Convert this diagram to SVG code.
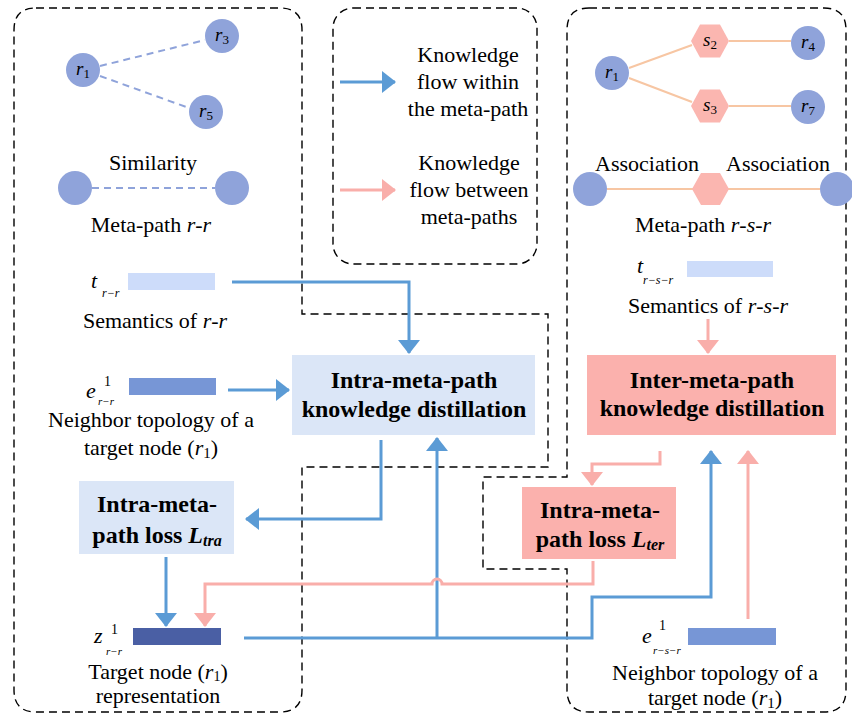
<svg xmlns="http://www.w3.org/2000/svg" width="852" height="717" viewBox="0 0 852 717" font-family="'Liberation Serif', 'Times New Roman', Times, Tinos, 'Noto Serif', 'DejaVu Serif', serif">
<style>
text{font-family:'Liberation Serif','Times New Roman',Times,Tinos,'Noto Serif','DejaVu Serif',serif}
.t{font-size:22px;fill:#000}
.b{font-size:24px;font-weight:bold;fill:#000}
.i{font-style:italic}
.lbl{font-size:19px;fill:#000;font-style:italic}
.sub{font-size:13px}
.bnd{fill:none;stroke:#000;stroke-width:1.4;stroke-dasharray:8 5}
.nd{fill:#8fa3da}
.hx{fill:#fbb6b0}
.sim{stroke:#8fa3da;stroke-width:2;stroke-dasharray:7 5;fill:none}
.asc{stroke:#f7c6a3;stroke-width:2;fill:none}
.bl{stroke:#5b9bd5;stroke-width:3;fill:none}
.pk{stroke:#f9aeaa;stroke-width:3;fill:none}
</style>
<defs>
<marker id="ab" markerUnits="userSpaceOnUse" markerWidth="14" markerHeight="22" refX="13" refY="11" orient="auto"><path d="M0,0 L14,11 L0,22 Z" fill="#5b9bd5"/></marker>
<marker id="ap" markerUnits="userSpaceOnUse" markerWidth="14" markerHeight="22" refX="13" refY="11" orient="auto"><path d="M0,0 L14,11 L0,22 Z" fill="#f9aeaa"/></marker>
</defs>

<g id="boundaries">
<path class="bnd" d="M36,8 H280 Q302,8 302,30 V314 H548 V467 H302 V690 Q302,712 280,712 H36 Q14,712 14,690 V30 Q14,8 36,8 Z"/>
<rect class="bnd" x="333" y="8" width="204" height="256" rx="20"/>
<path class="bnd" d="M589,8 H824 Q846,8 846,30 V690 Q846,712 824,712 H589 Q567,712 567,690 V569 H483 V477 H567 V30 Q567,8 589,8 Z"/>
</g>

<g id="legend">
<line class="bl" x1="340" y1="82" x2="395" y2="82" marker-end="url(#ab)"/>
<text class="t" text-anchor="middle"><tspan x="468" y="62">Knowledge</tspan><tspan x="468" y="89">flow within</tspan><tspan x="468" y="116">the meta-path</tspan></text>
<line class="pk" x1="340" y1="190" x2="395" y2="190" marker-end="url(#ap)"/>
<text class="t" text-anchor="middle"><tspan x="469" y="170">Knowledge</tspan><tspan x="469" y="197">flow between</tspan><tspan x="469" y="224">meta-paths</tspan></text>
</g>

<g id="graph-rr">
<line class="sim" x1="100" y1="66" x2="205" y2="40"/>
<line class="sim" x1="100" y1="76" x2="189" y2="108"/>
<circle class="nd" cx="83" cy="70" r="17"/>
<circle class="nd" cx="222" cy="36" r="17"/>
<circle class="nd" cx="206" cy="112" r="17"/>
<text class="lbl" x="76" y="75">r<tspan class="sub" style="font-style:normal" dy="3">1</tspan></text>
<text class="lbl" x="215" y="41">r<tspan class="sub" style="font-style:normal" dy="3">3</tspan></text>
<text class="lbl" x="199" y="117">r<tspan class="sub" style="font-style:normal" dy="3">5</tspan></text>
</g>

<g id="metapath-rr">
<text class="t" x="153" y="170" text-anchor="middle">Similarity</text>
<line class="sim" x1="92" y1="188" x2="215" y2="188"/>
<circle class="nd" cx="75" cy="188" r="17"/>
<circle class="nd" cx="232" cy="188" r="17"/>
<text class="t" x="151" y="232" text-anchor="middle">Meta-path <tspan class="i">r</tspan>-<tspan class="i">r</tspan></text>
</g>

<g id="graph-rsr">
<line class="asc" x1="629" y1="68" x2="692" y2="45"/>
<line class="asc" x1="629" y1="78" x2="692" y2="102"/>
<line class="asc" x1="729" y1="41" x2="791" y2="41"/>
<line class="asc" x1="729" y1="106" x2="791" y2="106"/>
<circle class="nd" cx="612" cy="73" r="17"/>
<polygon class="hx" points="691,41 700,24.5 720,24.5 729,41 720,57.5 700,57.5"/>
<polygon class="hx" points="691,106 700,89.5 720,89.5 729,106 720,122.5 700,122.5"/>
<circle class="nd" cx="808" cy="43" r="17"/>
<circle class="nd" cx="808" cy="107" r="17"/>
<text class="lbl" x="605" y="78">r<tspan class="sub" style="font-style:normal" dy="3">1</tspan></text>
<text class="lbl" x="703" y="46">s<tspan class="sub" style="font-style:normal" dy="3">2</tspan></text>
<text class="lbl" x="703" y="111">s<tspan class="sub" style="font-style:normal" dy="3">3</tspan></text>
<text class="lbl" x="801" y="48">r<tspan class="sub" style="font-style:normal" dy="3">4</tspan></text>
<text class="lbl" x="801" y="112">r<tspan class="sub" style="font-style:normal" dy="3">7</tspan></text>
</g>

<g id="metapath-rsr">
<text class="t" x="647" y="171" text-anchor="middle">Association</text>
<text class="t" x="778" y="171" text-anchor="middle">Association</text>
<line class="asc" x1="607" y1="189" x2="820" y2="189"/>
<circle class="nd" cx="590" cy="189" r="17"/>
<polygon class="hx" points="692,189 701,173 720,173 729,189 720,205 701,205"/>
<circle class="nd" cx="837" cy="189" r="17"/>
<text class="t" x="703" y="232" text-anchor="middle">Meta-path <tspan class="i">r</tspan>-<tspan class="i">s</tspan>-<tspan class="i">r</tspan></text>
</g>

<g id="semantics-rr">
<text class="lbl" x="91" y="288" style="font-size:22px">t</text>
<text class="lbl" x="102" y="297" style="font-size:12px">r−r</text>
<rect x="128" y="273" width="87" height="17" fill="#cddcfa"/>
<text class="t" x="155" y="328" text-anchor="middle">Semantics of <tspan class="i">r</tspan>-<tspan class="i">r</tspan></text>
</g>

<g id="topology-rr">
<text class="lbl" x="86" y="398" style="font-size:22px">e</text>
<text class="t" x="104" y="386" style="font-size:14px">1</text>
<text class="lbl" x="98" y="405" style="font-size:11px">r−r</text>
<rect x="129" y="378" width="87" height="17" fill="#7796d6"/>
<text class="t" text-anchor="middle"><tspan x="151" y="427">Neighbor topology of a</tspan><tspan x="151" y="455">target node (<tspan class="i">r</tspan><tspan style="font-size:15px" dy="3">1</tspan><tspan dy="-3">)</tspan></tspan></text>
</g>

<g id="intra-kd">
<rect x="292" y="355" width="243" height="80" fill="#dbe6f7"/>
<text class="b" text-anchor="middle"><tspan x="414" y="388">Intra-meta-path</tspan><tspan x="414" y="417">knowledge distillation</tspan></text>
</g>

<g id="inter-kd">
<rect x="587" y="355" width="249" height="80" fill="#fbb1ad"/>
<text class="b" text-anchor="middle"><tspan x="712" y="388">Inter-meta-path</tspan><tspan x="712" y="416">knowledge distillation</tspan></text>
</g>

<g id="loss-tra">
<rect x="79" y="481" width="155" height="73" fill="#dbe6f7"/>
<text class="b" text-anchor="middle"><tspan x="157" y="512">Intra-meta-</tspan><tspan x="157" y="543">path loss <tspan class="i">L</tspan><tspan class="i" style="font-size:16px" dy="3">tra</tspan></tspan></text>
</g>

<g id="loss-ter">
<rect x="522" y="487" width="154" height="72" fill="#fbb1ad"/>
<text class="b" text-anchor="middle"><tspan x="600" y="518">Intra-meta-</tspan><tspan x="600" y="547">path loss <tspan class="i">L</tspan><tspan class="i" style="font-size:16px" dy="3">ter</tspan></tspan></text>
</g>

<g id="semantics-rsr">
<text class="lbl" x="637" y="273" style="font-size:22px">t</text>
<text class="lbl" x="643" y="284" style="font-size:12px">r−s−r</text>
<rect x="687" y="261" width="86" height="16" fill="#cddcfa"/>
<text class="t" x="708" y="313" text-anchor="middle">Semantics of <tspan class="i">r</tspan>-<tspan class="i">s</tspan>-<tspan class="i">r</tspan></text>
</g>

<g id="target-repr">
<text class="lbl" x="94" y="643" style="font-size:22px">z</text>
<text class="t" x="111" y="634" style="font-size:14px">1</text>
<text class="lbl" x="106" y="655" style="font-size:11px">r−r</text>
<rect x="133" y="628" width="88" height="17" fill="#4a5fa4"/>
<text class="t" x="158" y="679" text-anchor="middle">Target node (<tspan class="i">r</tspan><tspan style="font-size:14px" dy="2">1</tspan><tspan dy="-2">)</tspan></text>
<text class="t" x="158" y="703" text-anchor="middle">representation</text>
</g>

<g id="topology-rsr">
<text class="lbl" x="642" y="643" style="font-size:22px">e</text>
<text class="t" x="659" y="630" style="font-size:14px">1</text>
<text class="lbl" x="653" y="654" style="font-size:11px">r−s−r</text>
<rect x="688" y="628" width="88" height="17" fill="#7796d6"/>
<text class="t" text-anchor="middle"><tspan x="715" y="680">Neighbor topology of a</tspan><tspan x="715" y="705">target node (<tspan class="i">r</tspan><tspan style="font-size:15px" dy="3">1</tspan><tspan dy="-3">)</tspan></tspan></text>
</g>

<g id="connectors">
<path class="bl" d="M232,282 H409 V353" marker-end="url(#ab)"/>
<path class="bl" d="M228,390 H289" marker-end="url(#ab)"/>
<path class="bl" d="M381,440 V519 H246" marker-end="url(#ab)"/>
<path class="bl" d="M166,557 V626" marker-end="url(#ab)"/>
<path class="bl" d="M244,638 H592 V597 H711 V451" marker-end="url(#ab)"/>
<path class="bl" d="M437,638 V438" marker-end="url(#ab)"/>
<path class="pk" d="M708,319 V353" marker-end="url(#ap)"/>
<path class="pk" d="M660,451 V464 H592 V485" marker-end="url(#ap)"/>
<path class="pk" d="M593,561 V584 H442 A5,5 0 0 0 432,584 H205 V626" marker-end="url(#ap)"/>
<path class="pk" d="M748,619 V451" marker-end="url(#ap)"/>
</g>
</svg>
